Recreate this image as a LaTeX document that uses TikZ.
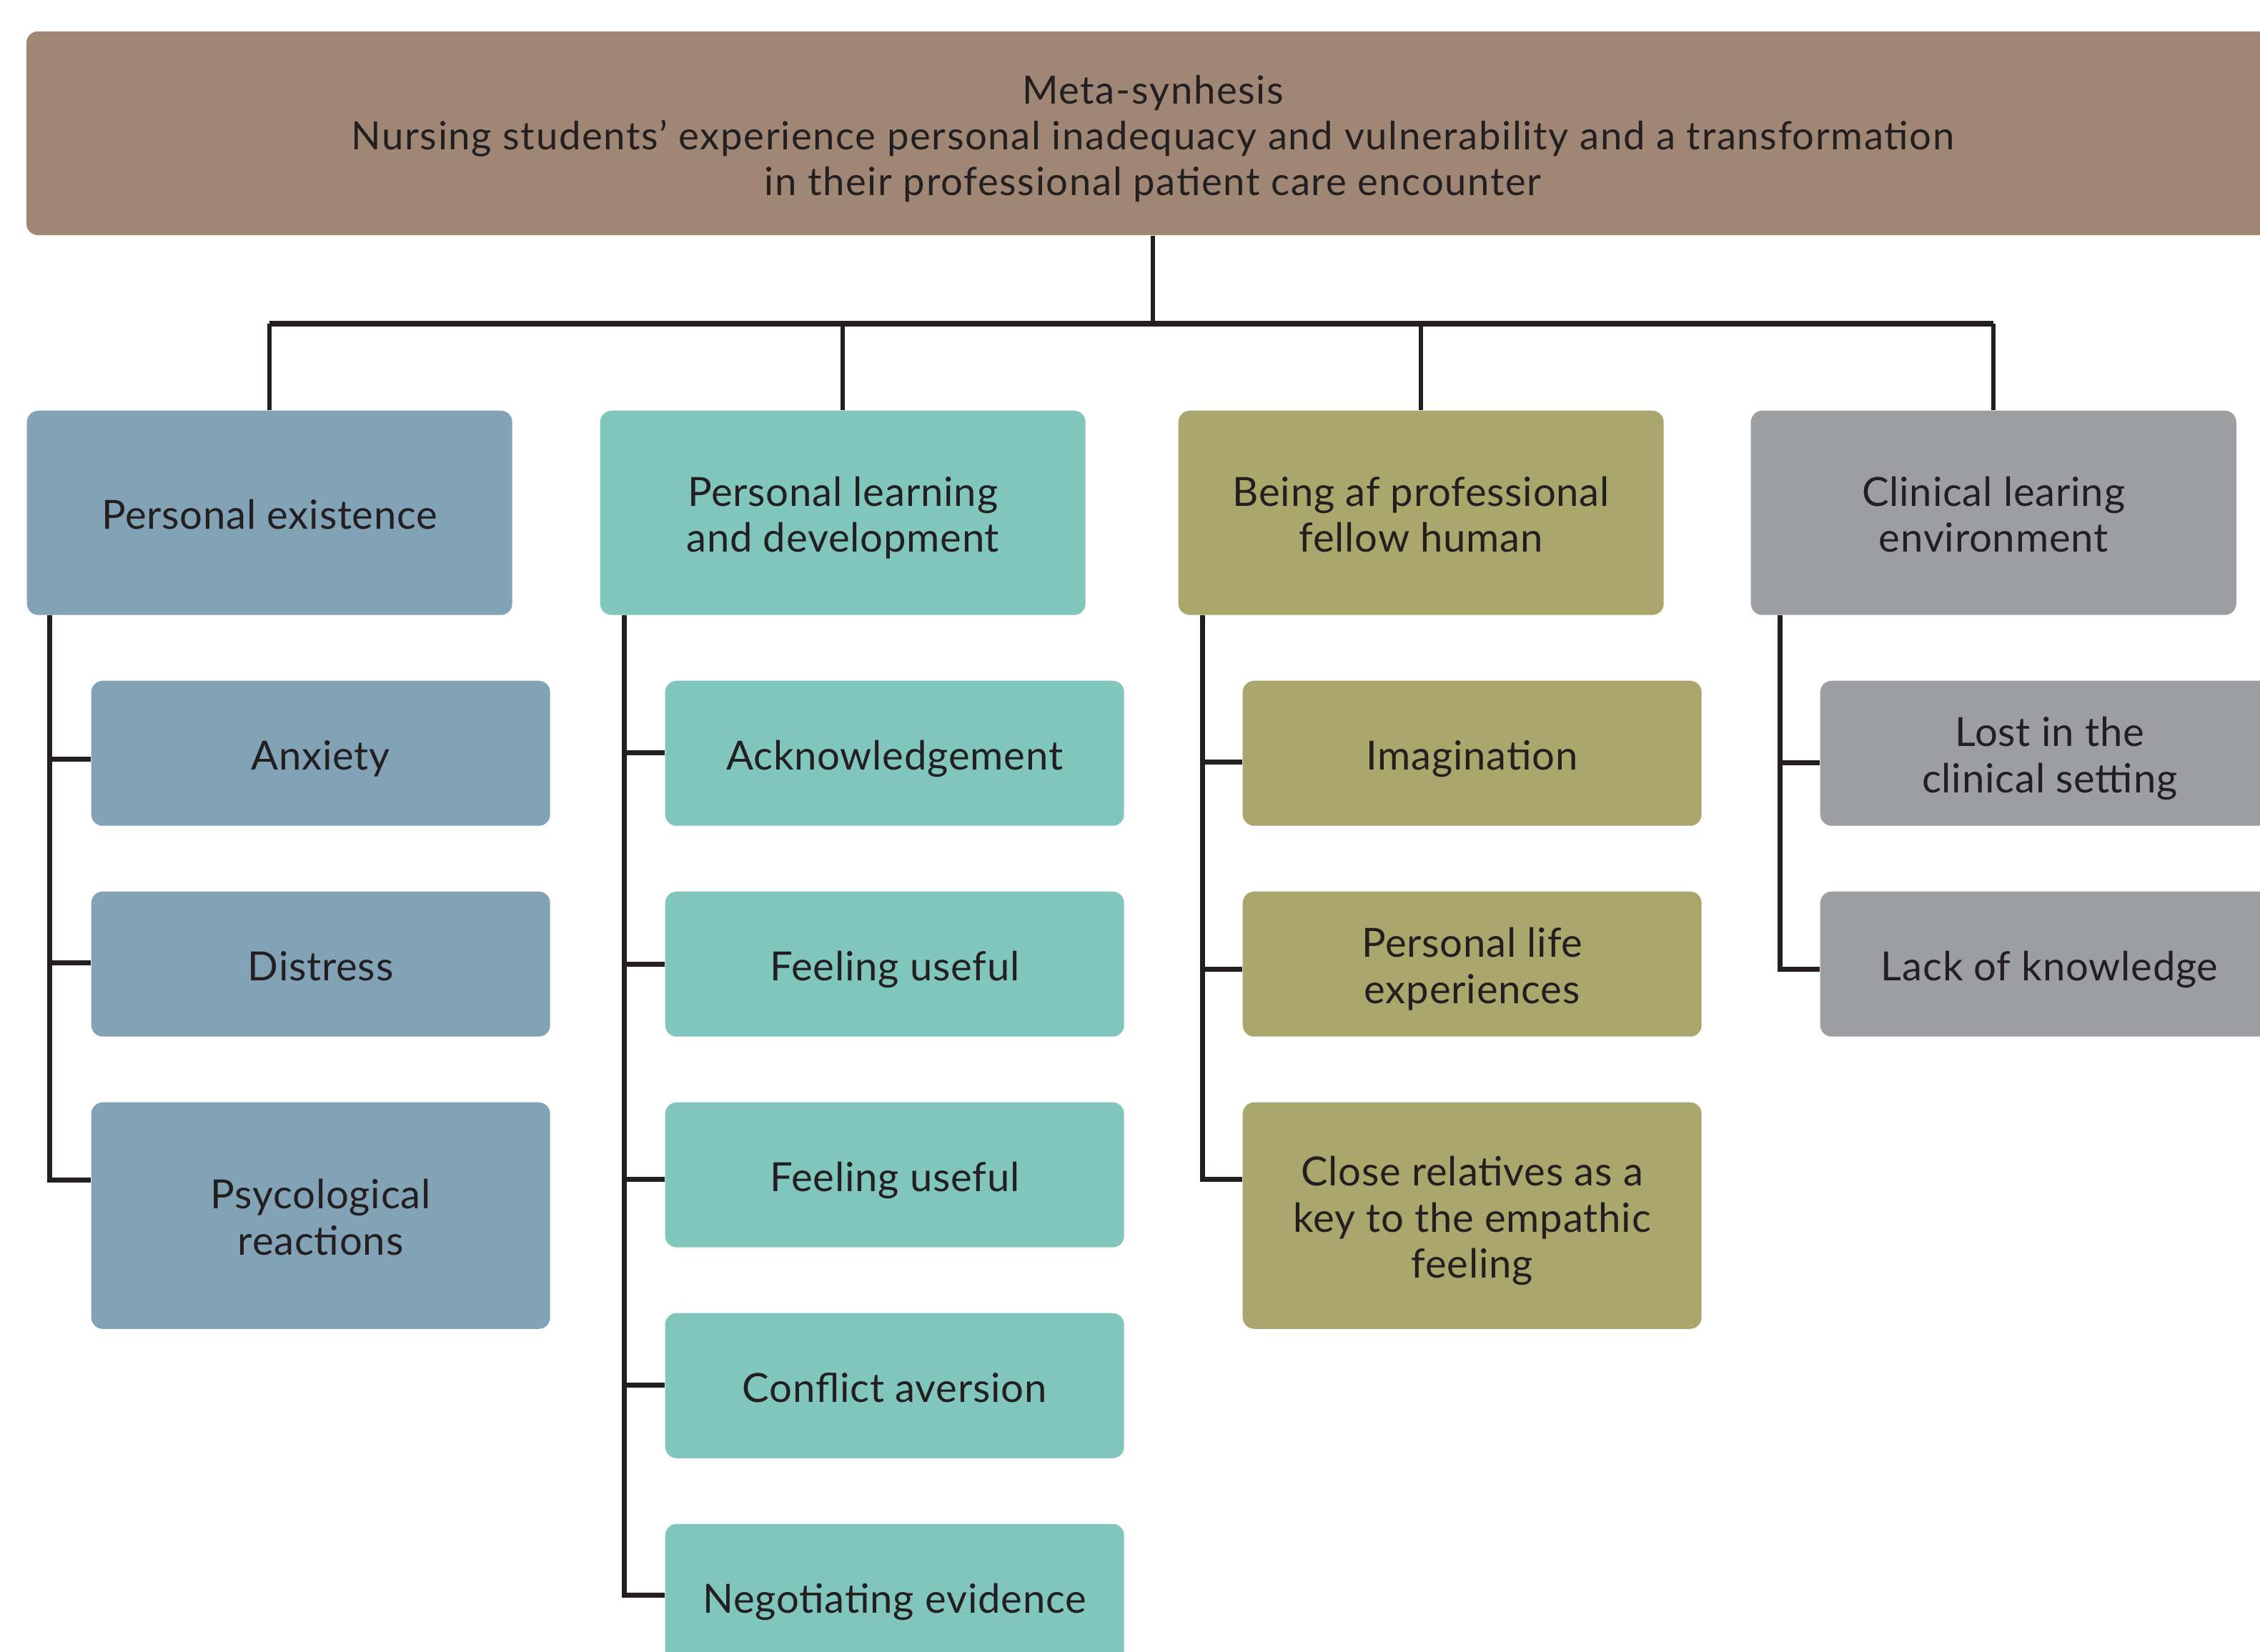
\documentclass[tikz,border=0pt]{standalone}
\usepackage{fontspec}
\usepackage{tikz}
\usetikzlibrary{calc, positioning}
\newfontfamily\boxfont[LetterSpace=1.4]{Lato}
\newfontfamily\metafont[LetterSpace=3]{Lato}
\definecolor{metabrown}{HTML}{A08775}
\definecolor{existblue}{HTML}{82A2B6}
\definecolor{learnteal}{HTML}{81C6BD}
\definecolor{humanolive}{HTML}{A9A76C}
\definecolor{clinicgray}{HTML}{9D9EA2}
\definecolor{ink}{HTML}{231F20}
% text lines set a little low in the boxes
\newcommand{\stacktext}[1]{\raisebox{0pt}[\dimexpr\height+5.7pt\relax][\depth]{\begin{tabular}{@{}c@{}}#1\end{tabular}}}
\tikzset{
  themebox/.style={rounded corners=1.6mm, minimum width=6.79cm, minimum height=2.86cm,
    inner sep=0pt, text=ink, anchor=north west,
    font=\boxfont\fontsize{16}{18.3}\selectfont},
  subbox/.style={themebox, minimum width=6.42cm, minimum height=2.03cm},
  tallbox/.style={subbox, minimum height=3.17cm},
  link/.style={ink, line width=0.6mm},
  branch/.style={ink, line width=0.7mm},
}

\begin{document}
\begin{tikzpicture}
  \clip (0,0) rectangle (31.62,-23.11);

  % top
  \node[rounded corners=1.6mm, fill=metabrown, minimum width=31.52cm, minimum height=2.85cm,
    inner sep=0pt, text=ink, font=\metafont\fontsize{15.5}{18.3}\selectfont]
    (meta) at (16.13,-1.865) {\stacktext{Meta-synhesis\\
    Nursing students’ experience personal inadequacy and vulnerability and a transformation\\
    in their professional patient care encounter}};
  \coordinate (bar) at (16.13,-4.53);

  % themes
  \node[themebox, fill=existblue] (pe) at (0.37,-5.74) {\stacktext{Personal existence}};
  \node[themebox, fill=learnteal] (pld) at (8.39,-5.74) {\stacktext{Personal learning\\and development}};
  \node[themebox, fill=humanolive] (bpf) at (16.48,-5.74) {\stacktext{Being af professional\\fellow human}};
  \node[themebox, fill=clinicgray] (cle) at (24.49,-5.74) {\stacktext{Clinical learing\\environment}};

  % personal existence
  \node[subbox, fill=existblue] (anx) at (1.27,-9.52) {\stacktext{Anxiety}};
  \node[subbox, fill=existblue] (dis) at (1.27,-12.47) {\stacktext{Distress}};
  \node[tallbox, fill=existblue] (psy) at (1.27,-15.42) {\stacktext{Psycological\\reactions}};

  % learning
  \node[subbox, fill=learnteal] (ack) at (9.30,-9.52) {\stacktext{Acknowledgement}};
  \node[subbox, fill=learnteal] (use1) at (9.30,-12.47) {\stacktext{Feeling useful}};
  \node[subbox, fill=learnteal] (use2) at (9.30,-15.42) {\stacktext{Feeling useful}};
  \node[subbox, fill=learnteal] (con) at (9.30,-18.37) {\stacktext{Conflict aversion}};
  \node[subbox, fill=learnteal] (neg) at (9.30,-21.32) {\stacktext{Negotiating evidence}};

  % fellow human
  \node[subbox, fill=humanolive] (ima) at (17.38,-9.52) {\stacktext{Imagination}};
  \node[subbox, fill=humanolive] (life) at (17.38,-12.47) {\stacktext{Personal life\\experiences}};
  \node[tallbox, fill=humanolive] (rel) at (17.38,-15.42) {\stacktext{Close relatives as a\\key to the empathic\\feeling}};

  % clinical
  \node[subbox, fill=clinicgray] (lost) at (25.46,-9.52) {\stacktext{Lost in the\\clinical setting}};
  \node[subbox, fill=clinicgray] (lack) at (25.46,-12.47) {\stacktext{Lack of knowledge}};

  % tree lines
  \draw[link] (meta) -- (bar);
  \draw[ink, line width=0.85mm] (pe |- bar) -- (cle |- bar);
  \draw[link] (pe) -- (pe |- bar);
  \draw[link] (pld) -- (pld |- bar);
  \draw[link] (bpf) -- (bpf |- bar);
  \draw[link] (cle) -- (cle |- bar);

  \draw[branch] ($(pe.south west)+(0.32,0)$) |- ($(anx.north west)+(0,-1.1)$);
  \draw[branch] ($(pe.south west)+(0.32,0)$) |- ($(dis.north west)+(0,-1.0)$);
  \draw[branch] ($(pe.south west)+(0.32,0)$) |- ($(psy.north west)+(0,-1.09)$);

  \draw[branch] ($(pld.south west)+(0.34,0)$) |- ($(ack.north west)+(0,-1.01)$);
  \draw[branch] ($(pld.south west)+(0.34,0)$) |- ($(use1.north west)+(0,-1.02)$);
  \draw[branch] ($(pld.south west)+(0.34,0)$) |- ($(use2.north west)+(0,-1.08)$);
  \draw[branch] ($(pld.south west)+(0.34,0)$) |- ($(con.north west)+(0,-1.01)$);
  \draw[branch] ($(pld.south west)+(0.34,0)$) |- ($(neg.north west)+(0,-1.0)$);

  \draw[branch] ($(bpf.south west)+(0.34,0)$) |- ($(ima.north west)+(0,-1.14)$);
  \draw[branch] ($(bpf.south west)+(0.34,0)$) |- ($(life.north west)+(0,-1.09)$);
  \draw[branch] ($(bpf.south west)+(0.34,0)$) |- ($(rel.north west)+(0,-1.08)$);

  \draw[branch] ($(cle.south west)+(0.41,0)$) |- ($(lost.north west)+(0,-1.15)$);
  \draw[branch] ($(cle.south west)+(0.41,0)$) |- ($(lack.north west)+(0,-1.09)$);
\end{tikzpicture}
\end{document}
